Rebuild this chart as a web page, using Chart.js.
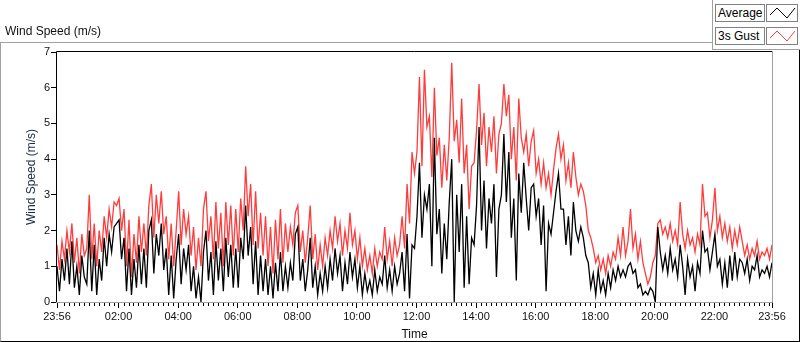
<!DOCTYPE html>
<html>
<head>
<meta charset="utf-8">
<script src="https://cdn.jsdelivr.net/npm/chart.js@4.4.0/dist/chart.umd.min.js"></script>
<style>
  body { margin: 0; background: #fff; font-family: "Liberation Sans", Arial, sans-serif; }
  #wrap { position: relative; width: 800px; height: 342px; overflow: hidden; }
  #chartCanvas { position: absolute; left: 0; top: 0; }
  .frame { position: absolute; left: 0; top: 42px; width: 798px; height: 298px;
           border-left: 1px solid #a0a0a0; border-top: 1px solid #a0a0a0;
           border-right: 1px solid #000; border-bottom: 1px solid #000; pointer-events: none; }
  .legArea { position: absolute; left: 712px; top: 0; width: 88px; height: 49px; background: #fff;
             border-left: 1px solid #a0a0a0; border-bottom: 1px solid #a0a0a0; }
  .title { position: absolute; left: 5px; top: 24px; font-size: 12px; color: #111; }
  .legName { position: absolute; left: 715px; width: 46px; height: 16px; border: 1px solid #808080;
             font-size: 12px; line-height: 16px; padding-left: 2px; box-sizing: content-box; color: #000; }
  .legIcon { position: absolute; left: 766px; width: 30px; height: 16px; border: 1px solid #808080; }
</style>
</head>
<body>
<div id="wrap">
  <canvas id="chartCanvas" width="800" height="342"></canvas>
  <div class="frame"></div>
  <div class="legArea"></div>
  <div class="title">Wind Speed (m/s)</div>
  <div class="legName" style="top:4px">Average</div>
  <div class="legIcon" style="top:4px"><svg width="30" height="16"><polyline points="3,10 10,3 20,13 28,3" fill="none" stroke="#000" stroke-width="1"/></svg></div>
  <div class="legName" style="top:27px">3s Gust</div>
  <div class="legIcon" style="top:27px"><svg width="30" height="16"><polyline points="3,10 10,3 20,13 28,3" fill="none" stroke="#ff4040" stroke-width="1"/></svg></div>
</div>
<script>
// time axis: minutes after midnight, 23:56 the day before to 23:56, one sample every 5 min
const startMinute = -4;
const endMinute = 1436;
const stepMinutes = 5;
const times = [];
for (let m = startMinute; m <= endMinute; m += stepMinutes) times.push(m);

const majorTicks = [-4, 120, 240, 360, 480, 600, 720, 840, 960, 1080, 1200, 1320, 1436];
const majorLabels = ["23:56", "02:00", "04:00", "06:00", "08:00", "10:00", "12:00",
                     "14:00", "16:00", "18:00", "20:00", "22:00", "23:56"];

// one row per hour (12 samples)
const averageSpeed = [
    1.0, 0.3, 1.2, 0.6, 1.5, 0.5, 1.7, 0.4, 1.0, 0.2, 1.3, 0.7,
    0.5, 2.0, 0.3, 1.6, 0.2, 1.2, 0.6, 1.8, 1.0, 1.9, 1.4, 2.1,
    2.2, 2.3, 1.2, 1.8, 0.3, 1.5, 0.2, 1.2, 0.4, 1.6, 0.5, 1.5,
    0.4, 2.0, 2.3, 0.8, 1.9, 1.3, 2.2, 0.9, 1.5, 0.2, 1.3, 0.1,
    1.2, 1.9, 0.5, 1.5, 0.9, 1.6, 0.3, 1.0, 0.1, 0.7, 0.0, 1.4,
    2.0, 0.6, 1.4, 0.2, 1.7, 0.6, 1.5, 0.3, 1.8, 0.7, 1.6, 0.4,
    1.5, 0.4, 1.8, 1.2, 2.7, 1.3, 2.1, 0.5, 1.7, 0.2, 1.3, 0.3,
    1.2, 0.2, 1.0, 0.1, 1.1, 0.3, 1.4, 0.3, 1.0, 0.4, 1.1, 0.6,
    1.9, 2.1, 0.6, 1.2, 0.3, 0.9, 1.8, 0.4, 1.0, 0.2, 0.8, 0.3,
    1.0, 0.4, 1.2, 0.6, 1.5, 0.8, 1.3, 0.3, 1.1, 0.5, 1.4, 0.7,
    1.2, 0.4, 1.0, 0.2, 0.8, 0.3, 0.6, 0.2, 0.9, 0.3, 0.7, 0.5,
    1.3, 0.4, 0.9, 0.3, 1.0, 0.5, 0.8, 1.4, 0.3, 1.9, 0.1, 1.6,
    1.5, 2.4, 3.9, 1.8, 3.0, 2.6, 3.3, 1.0, 4.6, 1.9, 2.6, 0.8,
    2.2, 1.2, 2.8, 4.0, 0.0, 3.0, 1.4, 3.3, 0.4, 2.4, 0.5, 1.8,
    1.6, 2.7, 4.9, 2.0, 3.4, 1.5, 2.9, 2.2, 3.3, 0.7, 2.6, 3.0,
    4.7, 2.8, 4.2, 1.8, 2.9, 0.6, 3.6, 2.5, 3.9, 2.9, 2.0, 3.2,
    3.3, 2.4, 2.9, 1.6, 2.7, 0.3, 2.2, 1.9, 2.5, 3.1, 3.6, 2.6,
    2.6, 1.6, 2.4, 1.3, 2.8, 2.0, 1.7, 2.1, 1.8, 1.3, 1.1, 0.4,
    0.8, 0.2, 0.9, 0.3, 0.6, 0.2, 0.8, 0.4, 0.9, 0.6, 1.0, 0.7,
    0.9, 0.7, 1.0, 1.1, 0.8, 0.9, 0.4, 0.5, 0.2, 0.3, 0.2, 0.4,
    0.3, 0.0, 2.1, 1.4, 0.9, 1.3, 0.8, 1.5, 0.9, 1.2, 0.7, 1.6,
    1.0, 0.2, 1.2, 0.7, 1.0, 0.3, 1.1, 0.8, 2.0, 1.4, 1.5, 0.9,
    1.4, 1.9, 1.0, 1.2, 0.5, 1.1, 0.4, 1.3, 0.6, 1.4, 0.7, 1.2,
    1.1, 0.8, 1.2, 0.6, 1.0, 0.9, 1.3, 0.7, 0.9, 0.8, 1.0, 0.7,
    1.1
];

const gustSpeed = [
    1.6, 0.9, 1.7, 1.2, 2.0, 1.4, 2.2, 1.1, 1.8, 0.8, 1.9, 1.3,
    1.5, 3.0, 1.2, 2.2, 1.0, 2.0, 1.4, 2.4, 1.8, 2.6, 2.1, 2.8,
    2.7, 2.9, 2.0, 2.6, 1.0, 2.3, 0.7, 1.9, 1.1, 2.4, 1.4, 2.2,
    1.3, 2.7, 3.3, 1.8, 3.0, 2.2, 3.1, 1.9, 2.4, 1.2, 2.2, 1.0,
    2.0, 3.1, 1.6, 2.6, 1.9, 2.4, 1.3, 2.1, 0.9, 1.8, 1.0, 2.6,
    3.1, 1.7, 2.4, 1.2, 2.8, 1.5, 2.5, 1.0, 2.8, 1.6, 2.7, 1.3,
    2.6, 1.4, 2.9, 2.0, 3.8, 2.4, 3.3, 1.6, 3.1, 1.5, 2.5, 1.3,
    2.4, 1.0, 2.1, 0.8, 2.3, 1.2, 2.6, 1.1, 2.2, 1.4, 2.1, 1.6,
    2.5, 2.7, 1.4, 2.0, 1.1, 1.8, 2.7, 1.2, 1.9, 0.9, 1.6, 1.0,
    1.8, 1.3, 2.0, 1.5, 2.4, 1.7, 2.2, 1.3, 2.0, 1.5, 2.5, 1.6,
    2.0, 1.2, 1.8, 1.0, 1.5, 0.9, 1.3, 0.8, 1.5, 1.0, 1.4, 1.2,
    2.1, 1.2, 1.7, 1.0, 1.8, 1.3, 1.6, 2.4, 1.5, 3.3, 2.2, 4.2,
    3.6, 4.2, 6.3, 3.8, 6.5, 4.9, 5.2, 3.5, 6.0, 4.1, 4.6, 3.2,
    4.4, 3.4, 4.6, 6.7, 4.5, 5.1, 3.9, 5.7, 3.6, 4.4, 2.6, 3.8,
    3.9, 4.8, 6.1, 4.4, 5.3, 3.8, 4.9, 4.2, 5.2, 3.6, 4.7, 5.0,
    6.1, 5.2, 5.8, 4.0, 4.9, 3.4, 5.7, 4.6, 4.2, 4.7, 3.8, 4.5,
    4.8, 3.6, 4.0, 3.3, 3.9, 3.2, 3.6, 3.0, 3.7, 4.3, 4.7, 4.0,
    4.4, 3.4, 3.9, 3.2, 4.2, 3.5, 3.0, 3.3, 3.1, 2.7, 2.0, 1.8,
    1.5, 1.1, 1.3, 0.9, 1.2, 0.8, 1.3, 1.0, 1.4, 1.2, 1.8, 1.3,
    2.1, 1.3, 1.7, 2.6, 1.5, 1.9, 1.2, 1.7, 1.1, 0.8, 0.5, 0.7,
    1.1, 1.3, 2.2, 2.3, 1.9, 2.1, 1.8, 2.2, 1.7, 2.0, 1.6, 2.8,
    1.9, 1.5, 2.0, 1.6, 1.8, 1.4, 1.9, 1.6, 3.3, 2.4, 2.5, 1.8,
    2.3, 3.2, 2.0, 2.4, 1.8, 2.2, 1.7, 2.1, 1.5, 2.0, 1.6, 2.1,
    1.7, 1.3, 1.6, 1.2, 1.5, 1.3, 1.7, 1.2, 1.4, 1.3, 1.5, 1.2,
    1.6
];

// LabVIEW style plot frame + 10 minute minor ticks
const plotFrame = {
    id: 'plotFrame',
    afterDraw(chart) {
        const ctx = chart.ctx;
        const a = chart.chartArea;
        const x = chart.scales.x;
        ctx.save();
        ctx.lineWidth = 1;
        ctx.strokeStyle = '#000';
        ctx.beginPath();
        ctx.moveTo(a.left - 0.5, a.bottom);
        ctx.lineTo(a.left - 0.5, a.top - 0.5);
        ctx.lineTo(a.right, a.top - 0.5);
        ctx.stroke();
        ctx.strokeStyle = '#a0a0a0';
        ctx.beginPath();
        ctx.moveTo(a.left - 1, a.bottom + 0.5);
        ctx.lineTo(a.right + 0.5, a.bottom + 0.5);
        ctx.lineTo(a.right + 0.5, a.top - 1);
        ctx.stroke();
        ctx.strokeStyle = '#000';
        ctx.beginPath();
        for (let m = 0; m < endMinute; m += 10) {
            if (m % 120 === 0) continue;
            const px = Math.round(x.getPixelForValue(m)) + 0.5;
            ctx.moveTo(px, a.bottom + 1);
            ctx.lineTo(px, a.bottom + 4);
        }
        ctx.stroke();
        ctx.restore();
    }
};

const ctx = document.getElementById('chartCanvas').getContext('2d');
new Chart(ctx, {
    type: 'line',
    data: {
        labels: times,
        datasets: [{
            label: 'Average',
            data: averageSpeed,
            borderColor: '#000000',
            borderWidth: 1.3,
            pointRadius: 0,
            tension: 0
        }, {
            label: '3s Gust',
            data: gustSpeed,
            borderColor: '#ff3c3c',
            borderWidth: 1.3,
            pointRadius: 0,
            tension: 0
        }]
    },
    options: {
        responsive: false,
        devicePixelRatio: 1,
        animation: false,
        layout: { padding: { left: 0, top: 52, right: 28, bottom: 0 } },
        plugins: { legend: { display: false }, tooltip: { enabled: false } },
        scales: {
            x: {
                type: 'linear',
                min: startMinute,
                max: endMinute,
                afterBuildTicks: (scale) => { scale.ticks = majorTicks.map(v => ({ value: v })); },
                afterFit: (scale) => { scale.height = 40; },
                border: { display: false },
                grid: { drawOnChartArea: false, tickLength: 6, tickColor: '#000' },
                ticks: {
                    autoSkip: false,
                    maxRotation: 0,
                    padding: 2,
                    color: '#111',
                    font: { family: 'Liberation Sans', size: 11 },
                    callback: (v) => majorLabels[majorTicks.indexOf(v)]
                },
                title: {
                    display: true,
                    text: 'Time',
                    color: '#111',
                    padding: { top: 0, bottom: 0 },
                    font: { family: 'Liberation Sans', size: 12 }
                }
            },
            y: {
                min: 0,
                max: 7,
                afterFit: (scale) => { scale.width = 57; },
                border: { display: false },
                grid: { drawOnChartArea: false, tickLength: 6, tickColor: '#000' },
                ticks: {
                    stepSize: 1,
                    padding: 1,
                    color: '#111',
                    font: { family: 'Liberation Sans', size: 11 }
                },
                title: {
                    display: true,
                    text: 'Wind Speed (m/s)',
                    color: '#1c2a44',
                    padding: { top: 24, bottom: 0 },
                    font: { family: 'Liberation Sans', size: 12 }
                }
            }
        }
    },
    plugins: [plotFrame]
});
</script>
</body>
</html>
